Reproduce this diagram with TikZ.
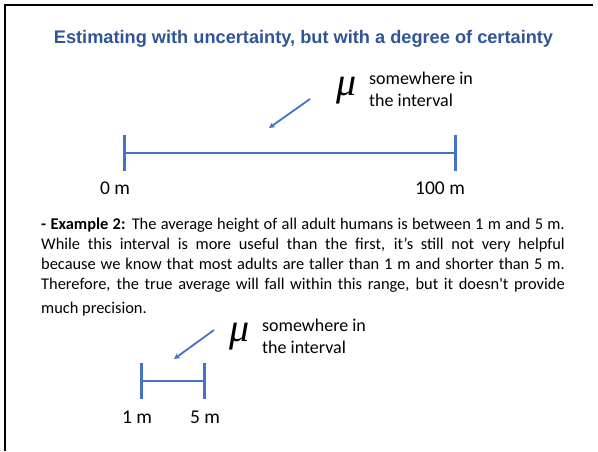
\documentclass[tikz,border=0pt]{standalone}
\usepackage{fontspec}
\setmainfont{Carlito}
\newfontfamily\titlefont{Liberation Sans}
\newfontfamily\mufont{Liberation Serif}
\usetikzlibrary{arrows.meta,calc}

\definecolor{titleblue}{RGB}{47,85,151}
\definecolor{barblue}{RGB}{68,114,196}

\begin{document}
\begin{tikzpicture}[
    x=1pt, y=-1pt,
    title/.style={
        font=\titlefont\bfseries\fontsize{18.2}{22}\selectfont,
        text=titleblue,
        inner sep=0pt
    },
    mean/.style={
        font=\mufont\itshape\fontsize{40}{40}\selectfont,
        inner sep=0pt
    },
    note/.style={
        font=\fontsize{18}{22}\selectfont,
        align=left,
        anchor=west,
        inner sep=0pt
    },
    endlabel/.style={
        font=\fontsize{19.5}{22}\selectfont,
        inner sep=0pt
    },
    bar/.style={
        barblue,
        line width=2.3pt
    },
    tick/.style={
        barblue,
        line width=3pt
    },
    pointer/.style={
        -{Stealth[length=6pt,width=6pt]},
        barblue,
        line width=1.8pt
    },
    para/.style={
        font=\fontsize{16.4}{20}\selectfont,
        text width=523.5pt,
        align=justify,
        anchor=north west,
        inner sep=0pt
    }
]
\useasboundingbox (0,0) rectangle (598,451);

%% --- Frame ---
\draw[line width=2pt] (4.5,451) -- (4.5,5) -- (593,5);

%% --- Title ---
\node[title] (T) at (303.5,39) {Estimating with uncertainty, but with a degree of certainty};

%% --- First interval ---
\coordinate (L1) at (124,153);
\coordinate (R1) at (455,153);
\draw[bar] (L1) -- (R1);
\draw[tick] ($(L1)+(0,-18)$) -- ($(L1)+(0,18)$);
\draw[tick] ($(R1)+(0,-18)$) -- ($(R1)+(0,18)$);
\node[endlabel] (L1lab) at (115,188) {0 m};
\node[endlabel] (R1lab) at (440,188) {100 m};

\node[mean] (M1) at (347,91) {μ};
\node[note] (N1) at (369,89) {somewhere in\\the interval};
\coordinate (P1s) at (310,99);
\coordinate (P1e) at (269,128);
\draw[pointer] (P1s) -- (P1e);

%% --- Example text ---
\node[para] (X) at (41,218) {\textbf{- Example 2:} The average height of all adult humans is between 1 m and 5 m.\linebreak
While this interval is more useful than the first, it’s still not very helpful\linebreak
because we know that most adults are taller than 1 m and shorter than 5 m.\linebreak
Therefore, the true average will fall within this range, but it doesn\textquotesingle t provide\vadjust{\vskip4pt}\linebreak
much precision.};

%% --- Second interval ---
\coordinate (L2) at (141,381);
\coordinate (R2) at (204,381);
\draw[bar] (L2) -- (R2);
\draw[tick] ($(L2)+(0,-18)$) -- ($(L2)+(0,18)$);
\draw[tick] ($(R2)+(0,-18)$) -- ($(R2)+(0,18)$);
\node[endlabel] (L2lab) at (137,417) {1 m};
\node[endlabel] (R2lab) at (205,417) {5 m};

\node[mean] (M2) at (240,337) {μ};
\node[note] (N2) at (262,336) {somewhere in\\the interval};
\coordinate (P2s) at (214,330);
\coordinate (P2e) at (174,359);
\draw[pointer] (P2s) -- (P2e);

\end{tikzpicture}
\end{document}
